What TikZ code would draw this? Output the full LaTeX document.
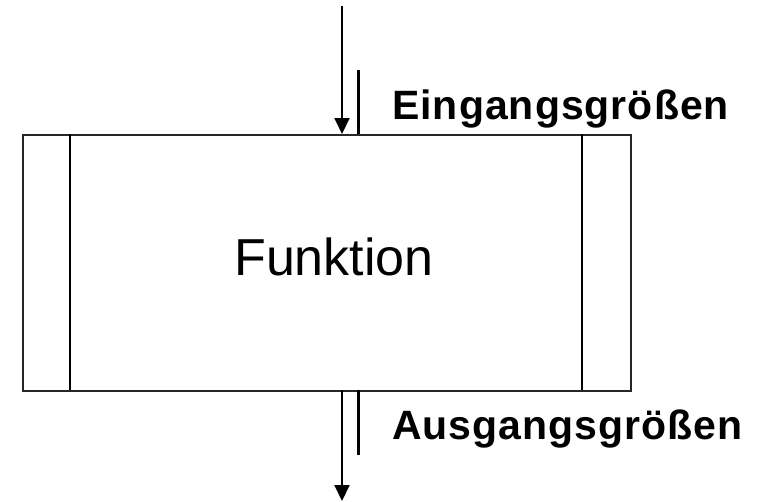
\documentclass[tikz,border=0pt]{standalone}
\usepackage{fontspec}
\setmainfont{Liberation Sans}
\usetikzlibrary{arrows.meta}
\begin{document}
\begin{tikzpicture}[x=1pt,y=-1pt,
  flow/.style={line width=2pt,-{Triangle[length=16pt,width=15pt]}},
  mark line/.style={line width=3pt},
  label text/.style={inner sep=0pt,anchor=base west,font=\fontsize{41}{41}\selectfont\bfseries\addfontfeature{LetterSpace=2.5}},
  ]
\useasboundingbox (0,0) rectangle (758,501);
\node[draw=black!85,line width=1.5pt,minimum width=608pt,minimum height=256pt,inner sep=0pt,anchor=north west] (box) at (22,134) {};
\node[inner sep=0pt,anchor=base,font=\fontsize{52}{52}\selectfont] (fn) at (334,275) {Funktion};
\coordinate (lt) at (70,134);
\coordinate (lb) at (70,390);
\coordinate (rt) at (582,134);
\coordinate (rb) at (582,390);
\draw[line width=2.5pt] (lt) -- (lb);
\draw[line width=2.5pt] (rt) -- (rb);
\coordinate (inS) at (342,6);
\coordinate (inE) at (342,134);
\coordinate (outS) at (342,390);
\coordinate (outE) at (342,501);
\draw[flow] (inS) -- (inE);
\draw[flow] (outS) -- (outE);
\coordinate (m1a) at (358,70);
\coordinate (m1b) at (358,134);
\coordinate (m2a) at (358,390);
\coordinate (m2b) at (358,455);
\draw[mark line] (m1a) -- (m1b);
\draw[mark line] (m2a) -- (m2b);
\node[label text] (ein) at (392,119) {Eingangsgrößen};
\node[label text] (aus) at (392,439) {Ausgangsgrößen};
\end{tikzpicture}
\end{document}
